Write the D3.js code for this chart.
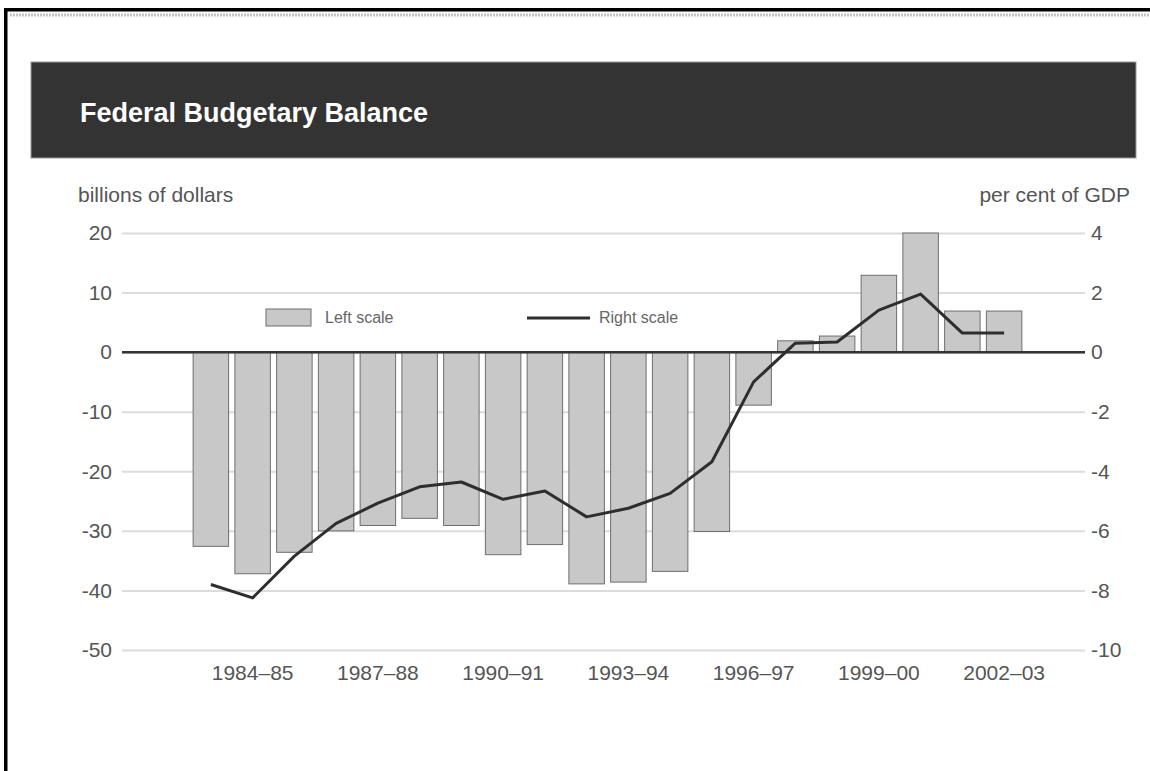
<head>
  <script src="https://cdnjs.cloudflare.com/ajax/libs/d3/7.8.5/d3.min.js"></script>
</head>
<style media="screen">
  body { margin: 0; background: #fff; }
  svg { display: block; font-family: "Liberation Sans", Arial, sans-serif; }
  .grid line { stroke: #dcdcdc; stroke-width: 2px; }
  .tick text { fill: #555; font-size: 21px; }
  .bar { fill: #c8c8c8; stroke: #6e6e6e; stroke-width: 1px; }
  .line { fill: none; stroke: #2e2e2e; stroke-width: 3px; stroke-linejoin: round; }
</style>
<body>
<script type="text/javascript">
// fiscal years, one bar each
var years = ["1983–84", "1984–85", "1985–86", "1986–87", "1987–88", "1988–89", "1989–90",
  "1990–91", "1991–92", "1992–93", "1993–94", "1994–95", "1995–96", "1996–97",
  "1997–98", "1998–99", "1999–00", "2000–01", "2001–02", "2002–03"];

// left scale, billions of dollars
var balance = [-32.6, -37.2, -33.6, -30.0, -29.1, -27.9, -29.1, -34.0, -32.3, -38.9,
  -38.6, -36.8, -30.1, -8.9, 1.9, 2.7, 12.9, 20.0, 6.9, 6.9];

// right scale, per cent of GDP
var pctGDP = [-7.8, -8.25, -6.85, -5.75, -5.07, -4.52, -4.36, -4.94, -4.66, -5.53,
  -5.24, -4.74, -3.68, -1.0, 0.3, 0.34, 1.41, 1.95, 0.64, 0.64];

var xLabels = ["1984–85", "1987–88", "1990–91", "1993–94", "1996–97", "1999–00", "2002–03"];
var leftTicks = [20, 10, 0, -10, -20, -30, -40, -50];
var rightTicks = [4, 2, 0, -2, -4, -6, -8, -10];

var width = 1150, height = 771;
var gridLeft = 122, gridRight = 1085, plotTop = 233, plotBottom = 650;

var svg = d3.select("body").append("svg")
    .attr("width", width)
    .attr("height", height);

// page frame
svg.append("rect").attr("x", 4).attr("y", 8).attr("width", width).attr("height", 3.5).attr("fill", "#000");
svg.append("rect").attr("x", 4).attr("y", 8).attr("width", 3.5).attr("height", height).attr("fill", "#000");
svg.append("line")
    .attr("x1", 10).attr("x2", width).attr("y1", 15).attr("y2", 15)
    .attr("stroke", "#c4c4c4").attr("stroke-width", 3).attr("stroke-dasharray", "2,1");

// title bar
svg.append("rect")
    .attr("x", 31).attr("y", 62).attr("width", 1105).attr("height", 96)
    .attr("fill", "#333").attr("stroke", "#9a9a9a").attr("stroke-width", 1);
svg.append("text")
    .attr("x", 80).attr("y", 122)
    .attr("fill", "#fff")
    .style("font-size", "27px").style("font-weight", "bold")
    .text("Federal Budgetary Balance");

// scales
var x = d3.scaleBand().domain(years).range([190, 1025]).paddingInner(0.15).paddingOuter(0.075);
var yL = d3.scaleLinear().domain([-50, 20]).range([plotBottom, plotTop]);
var yR = d3.scaleLinear().domain([-10, 4]).range([plotBottom, plotTop]);

// left axis + gridlines
var gLeft = svg.append("g")
    .attr("class", "grid")
    .attr("transform", "translate(" + gridLeft + ",0)")
    .call(d3.axisLeft(yL).tickValues(leftTicks).tickFormat(d => String(d))
      .tickSizeInner(-(gridRight - gridLeft)).tickSizeOuter(0).tickPadding(10));
gLeft.select(".domain").remove();
gLeft.selectAll(".tick text").attr("x", -10);
gLeft.selectAll(".tick line").attr("x1", 0).attr("x2", gridRight - gridLeft);

// right axis labels
var gRight = svg.append("g")
    .attr("transform", "translate(" + gridRight + ",0)")
    .call(d3.axisRight(yR).tickValues(rightTicks).tickFormat(d => String(d))
      .tickSize(0).tickPadding(6));
gRight.select(".domain").remove();

// axis titles
svg.append("text")
    .attr("x", 78).attr("y", 202)
    .attr("fill", "#555").style("font-size", "21px")
    .text("billions of dollars");
svg.append("text")
    .attr("x", 1130).attr("y", 202)
    .attr("text-anchor", "end")
    .attr("fill", "#555").style("font-size", "21px")
    .text("per cent of GDP");

// bars
svg.selectAll(".bar")
    .data(years)
    .enter().append("rect")
    .attr("class", "bar")
    .attr("x", d => x(d))
    .attr("width", x.bandwidth())
    .attr("y", (d, i) => yL(Math.max(0, balance[i])))
    .attr("height", (d, i) => Math.abs(yL(balance[i]) - yL(0)));

// zero line
svg.append("line")
    .attr("x1", gridLeft).attr("x2", gridRight)
    .attr("y1", yL(0)).attr("y2", yL(0))
    .attr("stroke", "#333").attr("stroke-width", 2.5);

// per cent of GDP line
var valueline = d3.line()
    .x((d, i) => x(years[i]) + x.bandwidth() / 2)
    .y(d => yR(d));

svg.append("path")
    .datum(pctGDP)
    .attr("class", "line")
    .attr("d", valueline);

// x axis labels
var gX = svg.append("g")
    .attr("transform", "translate(0," + (plotBottom + 15) + ")")
    .call(d3.axisBottom(x).tickValues(xLabels).tickSize(0).tickPadding(0));
gX.select(".domain").remove();

// legend
svg.append("rect")
    .attr("class", "legend-box")
    .attr("fill", "#c8c8c8").attr("stroke", "#6e6e6e")
    .attr("x", 266).attr("y", 309).attr("width", 45).attr("height", 17);
svg.append("text")
    .attr("x", 325).attr("y", 323)
    .attr("fill", "#666").style("font-size", "16px")
    .text("Left scale");
svg.append("line")
    .attr("x1", 527).attr("x2", 590).attr("y1", 318).attr("y2", 318)
    .attr("stroke", "#2e2e2e").attr("stroke-width", 3);
svg.append("text")
    .attr("x", 599).attr("y", 323)
    .attr("fill", "#666").style("font-size", "16px")
    .text("Right scale");
</script>
</body>
